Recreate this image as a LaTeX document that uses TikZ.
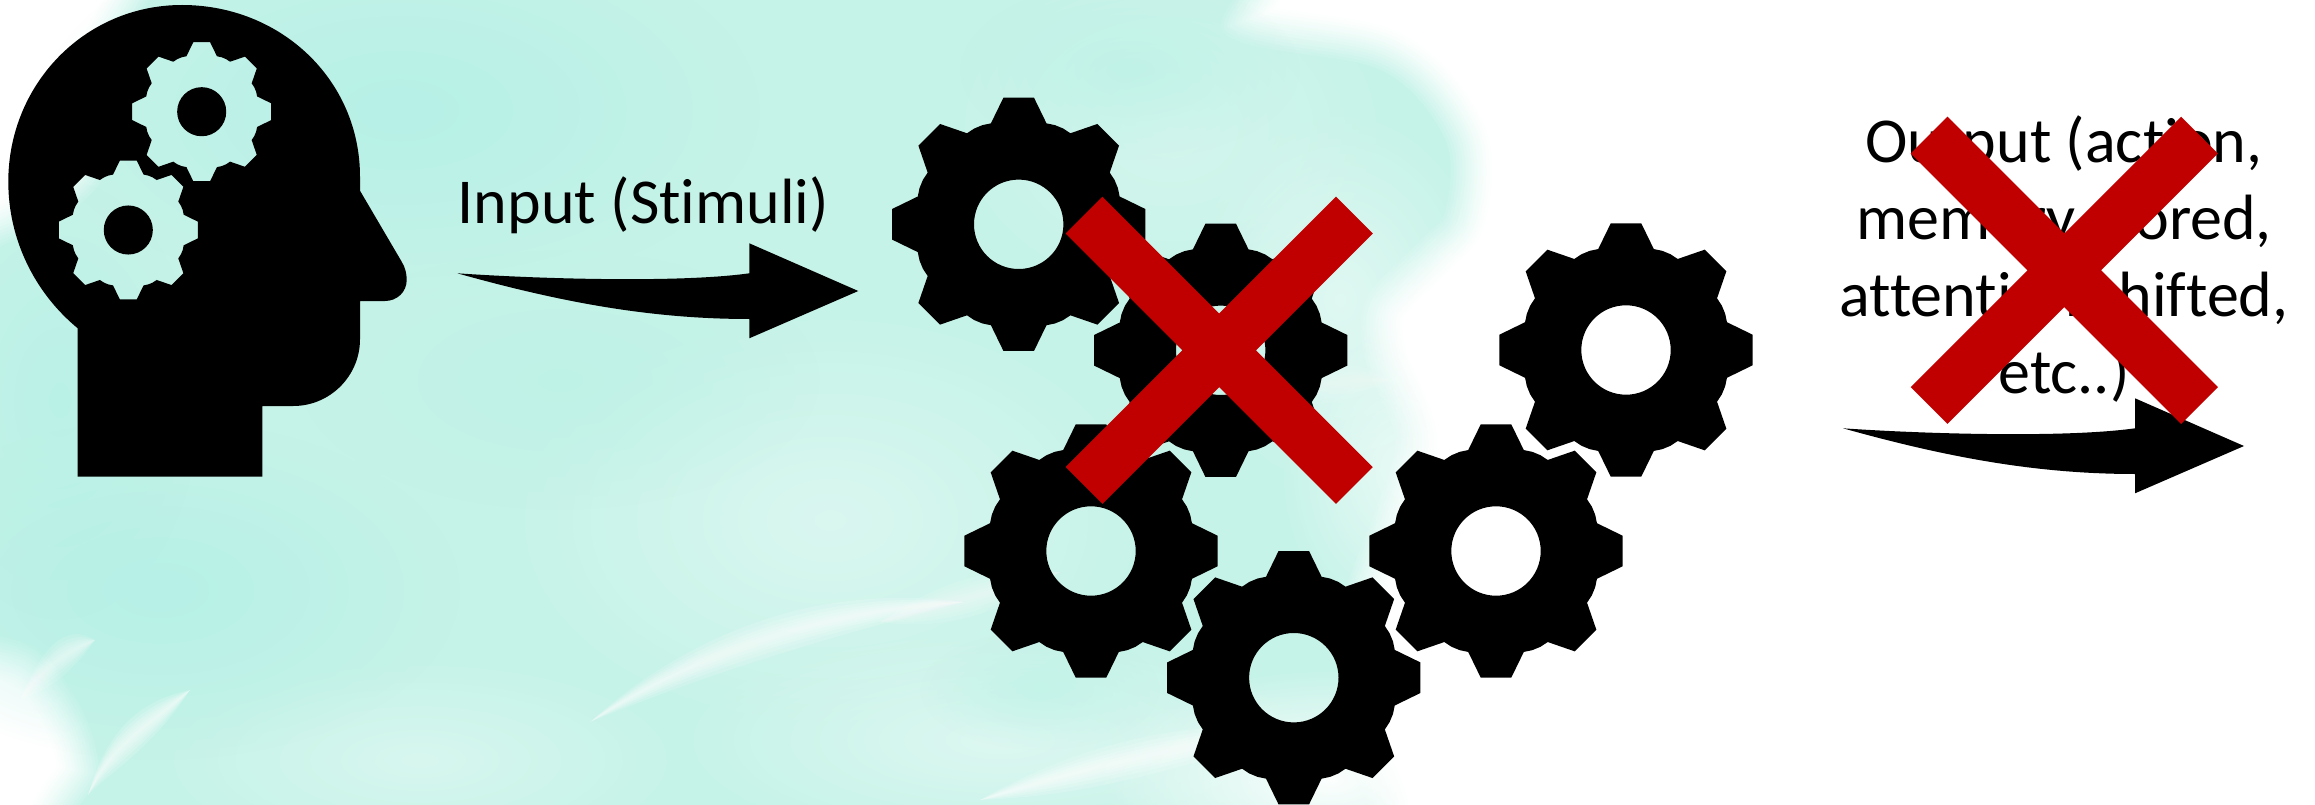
\documentclass[tikz,border=0pt]{standalone}
\usepackage{fontspec}
\setmainfont{Carlito}[RawFeature={-liga;-clig;-dlig}]
\usetikzlibrary{fadings}
\tikzfading[name=softblob, inner color=transparent!0, outer color=transparent!100]
\definecolor{mint}{HTML}{C6F3E8}
\definecolor{washdeep}{HTML}{B2F0E6}
\definecolor{washmid}{HTML}{BBF2E6}
\definecolor{xred}{HTML}{C00000}
\newcommand\gpt[5]{({#1+#3*#5*cos(#4)},{#2+#3*#5*sin(#4)})}
\newcommand\gearshape[3]{%
  \gpt{#1}{#2}{#3}{-6.9}{127.5}
  \foreach \a in {0,45,...,315}{
    -- \gpt{#1}{#2}{#3}{\a-6.9}{127.5}
    -- \gpt{#1}{#2}{#3}{\a+6.9}{127.5}
    -- \gpt{#1}{#2}{#3}{\a+15.4}{104.7}
    -- \gpt{#1}{#2}{#3}{\a+20.1}{105.6}
    -- \gpt{#1}{#2}{#3}{\a+24.9}{105.6}
    -- \gpt{#1}{#2}{#3}{\a+29.6}{104.7}
  } -- cycle
  (#1,#2) circle[radius=44.7*#3]}
\newcommand\bgpath{plot[smooth cycle, tension=.55] coordinates {
  (-60,-60) (150,-40) (125,50) (110,165) (60,220) (-40,280) (-60,450) (-40,610) (40,650) (85,715) (100,770) (110,860)
  (700,860) (1320,860) (1345,740) (1340,640) (1345,590) (1375,510) (1395,440) (1365,360) (1365,300) (1420,240)
  (1445,210) (1445,140) (1380,70) (1225,35) (1205,-60) (600,-70)}}
\tikzset{
  teach/.style={font=\fontsize{64}{77}\selectfont, inner sep=0pt, text=black},
  cross/.style={fill=xred, draw=none},
  bodyfill/.style={fill=black, draw=none, even odd rule},
  blob/.style={fill=#1, path fading=softblob, draw=none}
}
\newcommand\xmark[2]{\fill[cross, shift={(#1,#2)}]
  (-116.8,-153.6) -- (0,-36.8) -- (116.8,-153.6) -- (153.6,-116.8) -- (36.8,0) -- (153.6,116.8)
  -- (116.8,153.6) -- (0,36.8) -- (-116.8,153.6) -- (-153.6,116.8) -- (-36.8,0) -- (-153.6,-116.8) -- cycle;}
\newcommand\curvedarrow[2]{\fill[black, shift={(#1,#2)}]
  (457.3,273.3) .. controls (540,279) and (680,283) .. (749.3,273.3)
  -- (749.3,243.3) -- (858.3,291) -- (749.3,338.3) -- (749.3,319)
  .. controls (650,319) and (560,302) .. (457.3,273.3) -- cycle;}
% a soft tapered brush mark: opacity; end A; two controls; end B
\newcommand\lens[9]{\foreach \d in {26,20,15,11,7,3}{
  \fill[white, opacity=#1] (#2,#3) .. controls (#4,#5-\d) and (#6,#7-\d) .. (#8,#9)
     .. controls (#6,#7+\d) and (#4,#5+\d) .. (#2,#3) -- cycle;}}
\begin{document}
\begin{tikzpicture}[x=1pt,y=-1pt]
\useasboundingbox (0,0) rectangle (2315,805);
\fill[white] (0,0) rectangle (2315,805);
\begin{scope}
\clip (0,0) rectangle (2315,805);
% watercolour wash: soft edge
\foreach \w/\c in {84/3,78/7,72/12,66/17,60/23,54/29,48/36,42/43,36/51,30/59,24/67,18/75,12/84,6/92,0.1/100}{
  \draw[line width=\w pt, line join=round, draw=mint!\c!white, fill=mint!\c!white] \bgpath;
}
% tone variation of the wash
\fill[blob=white, opacity=.45] (1340,300) ellipse (150 and 190);
\fill[blob=white, opacity=.6] (1400,470) ellipse (120 and 160);
\fill[blob=white, opacity=.35] (830,520) ellipse (320 and 210);
\fill[blob=white, opacity=.4] (1000,740) ellipse (320 and 110);
\fill[blob=white, opacity=.95] (1330,780) ellipse (230 and 110);
\fill[blob=white, opacity=.3] (420,760) ellipse (260 and 100);
\fill[blob=white, opacity=.25] (1170,130) ellipse (220 and 170);
\fill[blob=washdeep, opacity=.8] (400,110) ellipse (360 and 190);
\fill[blob=washdeep, opacity=.8] (160,590) ellipse (300 and 170);
\fill[blob=washdeep, opacity=.6] (60,400) ellipse (140 and 220);
\fill[blob=washmid, opacity=.7] (1130,70) ellipse (170 and 90);
\fill[blob=washmid, opacity=.6] (560,380) ellipse (260 and 130);
\fill[blob=washmid, opacity=.6] (1040,690) ellipse (120 and 60);
% brush marks
\lens{.16}{590}{722}{700}{650}{830}{610}{965}{602}
\lens{.16}{88}{795}{110}{745}{150}{725}{190}{690}
\lens{.12}{20}{700}{45}{665}{70}{650}{95}{640}
\lens{.17}{980}{800}{1080}{770}{1180}{745}{1300}{728}
\lens{.1}{880}{622}{940}{605}{1000}{590}{1060}{572}
\lens{.07}{1240}{400}{1300}{385}{1350}{380}{1390}{380}
% head with its two cogs cut out
\path[bodyfill] (360,176.7) .. controls (360,80) and (281,5) .. (182,5)
  .. controls (85,5) and (8.3,84) .. (8.3,181.7)
  .. controls (8.3,240) and (35,293) .. (77.7,328.3)
  -- (77.7,476.7) -- (262.3,476.7) -- (262.3,406) -- (293.3,406)
  .. controls (330,406) and (360,376) .. (360,339.3)
  -- (360,301) -- (385,301)
  .. controls (397,301) and (406.7,292) .. (406.7,280)
  .. controls (406.7,274) and (405.5,268) .. (401.7,261.7)
  -- (360,190.7) -- cycle
  \gearshape{201.7}{111.7}{0.549}
  \gearshape{128.3}{230}{0.549};
% free-standing cogs
\path[bodyfill] \gearshape{1018.7}{224.3}{1};
\path[bodyfill] \gearshape{1220.7}{350.3}{1};
\path[bodyfill] \gearshape{1626}{350}{1};
\path[bodyfill] \gearshape{1091}{551}{1};
\path[bodyfill] \gearshape{1496}{551}{1};
\path[bodyfill] \gearshape{1293.8}{677.7}{1};
\end{scope}
% texts
\node[teach, anchor=base] (inlabel) at (643.5,223.3) {Input (Stimuli)};
\node[teach, anchor=center, align=center] (outlabel) at (2064,259)
  {Output (action,\\memory stored,\\attention shifted,\\etc..)};
% arrows
\curvedarrow{0}{0}
\curvedarrow{1385.7}{155}
% crosses
\xmark{1219.2}{350.3}
\xmark{2064.3}{270.3}
\end{tikzpicture}
\end{document}
